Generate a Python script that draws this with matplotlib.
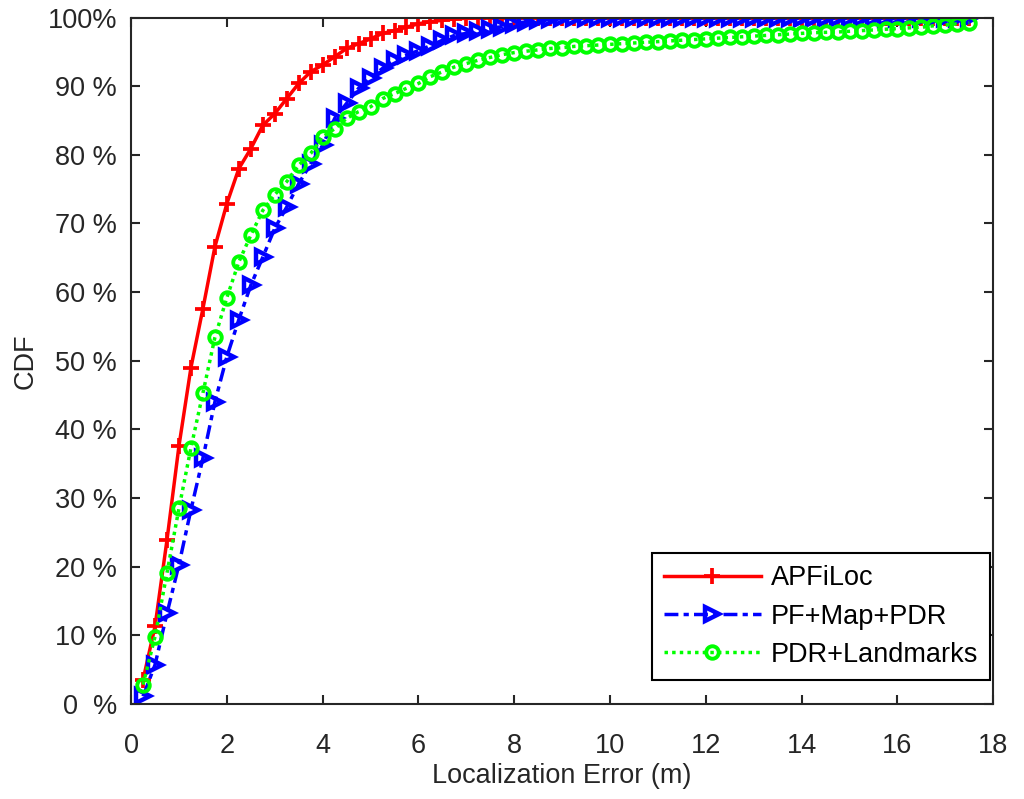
import matplotlib
matplotlib.use("Agg")
import matplotlib.pyplot as plt
import numpy as np

plt.rcParams['font.family'] = ['Liberation Sans', 'DejaVu Sans']

x_err = [0.25 * (i + 1) for i in range(70)]

apfiloc = [3.5, 11.3, 23.9, 37.6, 49.0, 57.6, 66.6, 72.9, 78.0, 80.9,
           84.3, 86.0, 88.2, 90.4, 92.1, 93.1, 94.3, 95.5, 96.2, 96.9,
           97.7, 98.1, 98.6, 99.1, 99.4, 99.6, 99.8, 99.9, 99.95, 100,
           100, 100, 100, 100, 100, 100, 100, 100, 100, 100,
           100, 100, 100, 100, 100, 100, 100, 100, 100, 100,
           100, 100, 100, 100, 100, 100, 100, 100, 100, 100,
           100, 100, 100, 100, 100, 100, 100, 100, 100, 100]

pf_map_pdr = [1.1, 5.7, 13.2, 20.3, 28.3, 35.8, 44.0, 50.6, 56.0, 61.0,
              65.1, 69.3, 72.4, 75.8, 78.7, 81.4, 85.3, 87.5, 89.7, 91.2,
              92.6, 93.8, 94.5, 95.2, 95.9, 96.7, 97.4, 97.7, 98.1, 98.4,
              98.7, 99.1, 99.4, 99.6, 99.8, 99.9, 100, 100, 100, 100,
              100, 100, 100, 100, 100, 100, 100, 100, 100, 100,
              100, 100, 100, 100, 100, 100, 100, 100, 100, 100,
              100, 100, 100, 100, 100, 100, 100, 100, 100, 100]

pdr_landmarks = [2.8, 9.8, 19.1, 28.5, 37.3, 45.3, 53.4, 59.2, 64.4, 68.3,
                 71.9, 74.2, 76.1, 78.5, 80.2, 82.6, 83.8, 85.3, 86.3, 87.0,
                 88.2, 88.9, 89.7, 90.4, 91.4, 92.1, 92.8, 93.3, 93.8, 94.2,
                 94.6, 94.9, 95.1, 95.3, 95.5, 95.6, 95.8, 95.9, 96.0, 96.1,
                 96.2, 96.3, 96.4, 96.5, 96.6, 96.7, 96.8, 96.9, 97.0, 97.1,
                 97.2, 97.3, 97.4, 97.5, 97.6, 97.7, 97.8, 97.85, 97.9, 98.0,
                 98.1, 98.2, 98.3, 98.4, 98.5, 98.6, 98.8, 98.9, 99.1, 99.2]

y_ticks = [0, 10, 20, 30, 40, 50, 60, 70, 80, 90, 100]
y_tick_labels = ['0  %', '10 %', '20 %', '30 %', '40 %', '50 %', '60 %',
                 '70 %', '80 %', '90 %', '100%']
x_ticks = [0, 2, 4, 6, 8, 10, 12, 14, 16, 18]

FS = 19.5

fig = plt.figure(figsize=(10.24, 7.99), dpi=100)
ax = fig.add_axes([0.128, 0.119, 0.842, 0.859])

ax.plot(x_err, apfiloc, color='#ff0000', linestyle='-', linewidth=2.5,
        marker='+', markersize=12, markeredgewidth=2.7, label='APFiLoc')
ax.plot(x_err, pf_map_pdr, color='#0000ff', linestyle=(0, (4, 1.5, 1.5, 1.5)), linewidth=2.5,
        marker='>', markersize=10, markeredgewidth=3.2, markerfacecolor='none',
        label='PF+Map+PDR')
ax.plot(x_err, pdr_landmarks, color='#00ff00', linestyle=(0, (1, 1.2)), linewidth=2.5,
        marker='o', markersize=9, markeredgewidth=2.8, markerfacecolor='none',
        label='PDR+Landmarks')

ax.set_xlim(0, 18)
ax.set_ylim(0, 100)
ax.set_xticks(x_ticks)
ax.set_yticks(y_ticks)
ax.set_yticklabels(y_tick_labels)
ax.tick_params(direction='in', length=6.7, width=1.5, top=True, right=True,
               labelsize=FS, colors='#262626')
ax.tick_params(axis='x', pad=21)
ax.tick_params(axis='y', pad=10)
for s in ax.spines.values():
    s.set_linewidth(1.5)
    s.set_color('#262626')

ax.set_xlabel('Localization Error (m)', fontsize=FS, color='#262626', labelpad=3)
ax.set_ylabel('CDF', fontsize=FS, color='#262626', labelpad=6.5)

leg = ax.legend(loc='lower right', bbox_to_anchor=(0.9965, 0.035), fontsize=FS,
                frameon=True, fancybox=False, edgecolor='#000000', framealpha=1,
                handlelength=3.6, borderaxespad=0.0, labelspacing=0.45,
                handletextpad=0.35, borderpad=0.45)
leg.get_frame().set_linewidth(1.5)

fig.savefig('out.png', dpi=100)
